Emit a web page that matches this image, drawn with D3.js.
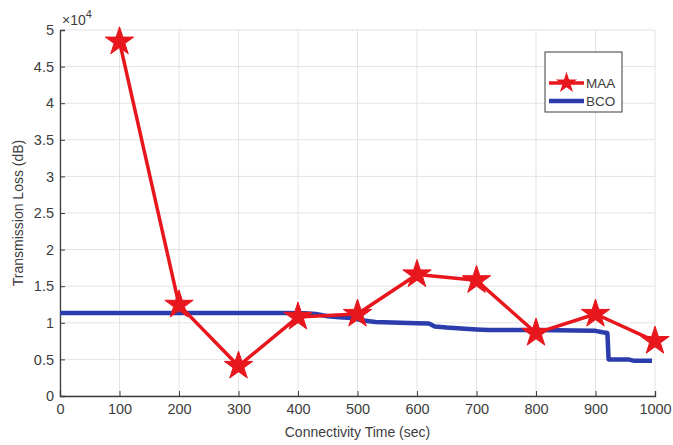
<!DOCTYPE html>
<html>
<head>
<meta charset="utf-8">
<script src="https://cdn.jsdelivr.net/npm/d3@7"></script>
<style>
  html, body { margin: 0; padding: 0; background: #fff; }
  svg { display: block; font-family: "Liberation Sans", Arial, sans-serif; }
</style>
</head>
<body>
<svg id="chart" width="673" height="445"></svg>
<script>
// MAA: one sample every 100 s
const maaTime = [100, 200, 300, 400, 500, 600, 700, 800, 900, 1000];
const maaLoss = [48400, 12450, 4100, 10800, 11200, 16600, 15800, 8600, 11200, 7500];

// BCO: dense trace, stepping down over time
const bcoTime = [0, 100, 200, 300, 380, 410, 430, 450, 470, 490, 510, 530, 600, 620, 630, 650, 680, 700, 720, 800, 900, 912, 920, 922, 955, 965, 995];
const bcoLoss = [11350, 11350, 11350, 11350, 11350, 11300, 11200, 10900, 10750, 10650, 10300, 10100, 9950, 9900, 9500, 9350, 9200, 9100, 9000, 9000, 8900, 8700, 8600, 5000, 5000, 4800, 4800];

const xTicks = [0, 100, 200, 300, 400, 500, 600, 700, 800, 900, 1000];
const yTicks = [0, 5000, 10000, 15000, 20000, 25000, 30000, 35000, 40000, 45000, 50000];
const yTickLabels = ["0", "0.5", "1", "1.5", "2", "2.5", "3", "3.5", "4", "4.5", "5"];

const seriesNames = ["MAA", "BCO"];
const seriesColors = ["#e8161d", "#2b3cad"];

const svg = d3.select("#chart");
const margin = { left: 60, right: 18, top: 30, bottom: 49 };
const W = 673, H = 445;
const x = d3.scaleLinear().domain([0, 1000]).range([margin.left, W - margin.right]);
const y = d3.scaleLinear().domain([0, 50000]).range([H - margin.bottom, margin.top]);

const textColor = "#3d3d3d";
const axisColor = "#3d3d3d";

// grid
const grid = svg.append("g");
grid.selectAll("line.vx").data(xTicks).join("line")
  .attr("x1", d => x(d)).attr("x2", d => x(d))
  .attr("y1", y(0)).attr("y2", y(50000))
  .attr("stroke", "#e3e3e3").attr("stroke-width", 1);
grid.selectAll("line.hy").data(yTicks).join("line")
  .attr("x1", x(0)).attr("x2", x(1000))
  .attr("y1", d => y(d)).attr("y2", d => y(d))
  .attr("stroke", "#e3e3e3").attr("stroke-width", 1);

// axes (inward ticks)
const xAxis = d3.axisBottom(x).tickValues(xTicks).tickSize(-5).tickPadding(8).tickFormat(d3.format("d"));
const yAxis = d3.axisLeft(y).tickValues(yTicks).tickSize(-5).tickPadding(6)
  .tickFormat((d, i) => yTickLabels[i]);

const gx = svg.append("g").attr("transform", `translate(0,${y(0)})`).call(xAxis);
const gy = svg.append("g").attr("transform", `translate(${x(0)},0)`).call(yAxis);
[gx, gy].forEach(g => {
  g.select(".domain").attr("stroke", axisColor).attr("stroke-width", 1.3);
  g.selectAll(".tick line").attr("stroke", axisColor).attr("stroke-width", 1);
  g.selectAll(".tick text").attr("fill", textColor)
    .style("font-size", "14.5px").style("font-family", "Liberation Sans, Arial, sans-serif");
});

// exponent label
const expo = svg.append("text").attr("x", x(0) + 2).attr("y", 25)
  .attr("fill", textColor).style("font-size", "14px");
expo.append("tspan").text("\u00d710");
expo.append("tspan").attr("dy", -7).style("font-size", "11px").text("4");

// axis titles
svg.append("text").attr("x", (x(0) + x(1000)) / 2).attr("y", 437)
  .attr("text-anchor", "middle").attr("fill", textColor).style("font-size", "14px")
  .text("Connectivity Time (sec)");
svg.append("text")
  .attr("transform", `translate(23,${(y(0) + y(50000)) / 2}) rotate(-90)`)
  .attr("text-anchor", "middle").attr("fill", textColor).style("font-size", "14px")
  .text("Transmission Loss (dB)");

// BCO line
const bcoData = bcoTime.map((t, i) => [t, bcoLoss[i]]);
svg.append("path").datum(bcoData)
  .attr("d", d3.line().x(d => x(d[0])).y(d => y(d[1])))
  .attr("fill", "none").attr("stroke", seriesColors[1]).attr("stroke-width", 4.5)
  .attr("stroke-linejoin", "round");

// MAA line + star markers
const maaData = maaTime.map((t, i) => [t, maaLoss[i]]);
svg.append("path").datum(maaData)
  .attr("d", d3.line().x(d => x(d[0])).y(d => y(d[1])))
  .attr("fill", "none").attr("stroke", seriesColors[0]).attr("stroke-width", 3.5)
  .attr("stroke-linejoin", "round");

const star = d3.symbol().type(d3.symbolStar).size(250);
svg.selectAll("path.star").data(maaData).join("path")
  .attr("class", "star")
  .attr("transform", d => `translate(${x(d[0])},${y(d[1])})`)
  .attr("d", star)
  .attr("fill", seriesColors[0]).attr("stroke", seriesColors[0]).attr("stroke-width", 1);

// legend
const lg = svg.append("g").attr("transform", "translate(545,52)");
lg.append("rect").attr("width", 77).attr("height", 60)
  .attr("fill", "#fff").attr("stroke", "#3d3d3d").attr("stroke-width", 1);
const rows = [31, 49];
const legendStar = d3.symbol().type(d3.symbolStar).size(140);
seriesNames.forEach((name, i) => {
  const row = lg.append("g").attr("transform", `translate(0,${rows[i]})`);
  row.append("line").attr("x1", 4).attr("x2", 39).attr("y1", 0).attr("y2", 0)
    .attr("stroke", seriesColors[i]).attr("stroke-width", i === 0 ? 3.5 : 4.5);
  if (i === 0) {
    row.append("path").attr("transform", "translate(21.5,0)").attr("d", legendStar)
      .attr("fill", seriesColors[0]);
  }
  row.append("text").attr("x", 41).attr("y", 5).attr("fill", textColor)
    .style("font-size", "13.5px").text(name);
});
</script>
</body>
</html>
